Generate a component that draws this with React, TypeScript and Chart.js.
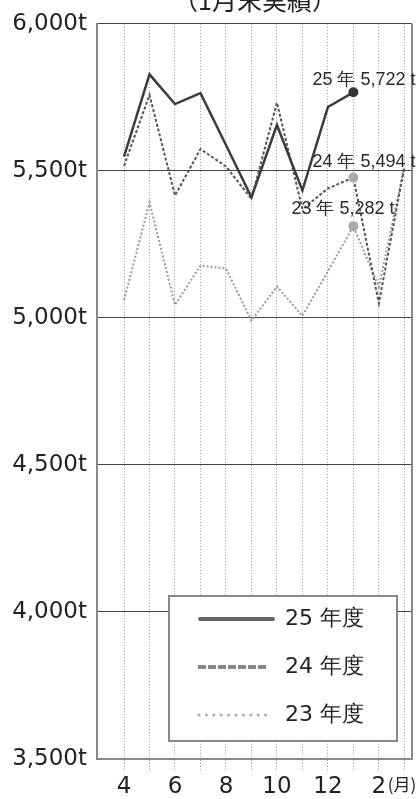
import React, { useEffect, useRef } from 'react';
import { Chart, registerables } from 'chart.js';

Chart.register(...registerables);

// ---- data ----
const months = ['4', '5', '6', '7', '8', '9', '10', '11', '12', '1', '2', '3'];
const xTickLabels = ['4', '', '6', '', '8', '', '10', '', '12', '', '2', ''];
const yTickValues = [3500, 4000, 4500, 5000, 5500, 6000];
const yTickLabels = ['3,500t', '4,000t', '4,500t', '5,000t', '5,500t', '6,000t'];
const seriesNames = ['25 年度', '24 年度', '23 年度'];
const fy25 = [5548, 5828, 5727, 5764, 5588, 5410, 5656, 5433, 5717, 5767];
const fy24 = [5517, 5758, 5416, 5574, 5515, 5405, 5732, 5370, 5440, 5477, 5050, 5513];
const fy23 = [5060, 5393, 5044, 5178, 5168, 4990, 5107, 5007, 5158, 5312, 5105, 5515];
const endLabels = ['25 年 5,722 t', '24 年 5,494 t', '23 年 5,282 t'];
const janIndex = 9;
const titleText = '（1月末実績）';
const unitText = '(月)';

const AXIS_FONT = '"DejaVu Sans", sans-serif';
const NOTE_FONT = '"Liberation Sans", Arial, sans-serif';
const CJK_FONT = '"Noto Sans CJK JP", sans-serif';

const toPoints = (arr: number[]) => arr.map((y, i) => ({ x: i, y }));
const markerRadius = (arr: number[]) => arr.map((_, i) => (i === janIndex ? 5 : 0));

const decorPlugin = {
  id: 'decor',
  afterDatasetsDraw(chart: any) {
    const ctx = chart.ctx as CanvasRenderingContext2D;
    const area = chart.chartArea;
    ctx.save();
    ctx.strokeStyle = '#888';
    ctx.lineWidth = 2;
    ctx.beginPath();
    ctx.moveTo(area.right, area.top);
    ctx.lineTo(area.right, area.bottom);
    ctx.stroke();
    ctx.restore();

    const offsets = [
      [-41, -12],
      [-41, -16],
      [-62, -17],
    ];
    ctx.save();
    ctx.font = `18px ${NOTE_FONT}`;
    ctx.fillStyle = '#2a2a2a';
    ctx.textAlign = 'left';
    ctx.textBaseline = 'middle';
    chart.data.datasets.forEach((_: any, i: number) => {
      const meta = chart.getDatasetMeta(i);
      const pt = meta.data[janIndex];
      if (!pt) return;
      ctx.fillText(endLabels[i], pt.x + offsets[i][0], pt.y + offsets[i][1]);
    });
    ctx.restore();
  },
  afterDraw(chart: any) {
    const ctx = chart.ctx as CanvasRenderingContext2D;
    const xs = chart.scales.x;
    ctx.save();
    ctx.font = `25px ${CJK_FONT}`;
    ctx.fillStyle = '#222';
    ctx.textAlign = 'center';
    ctx.textBaseline = 'alphabetic';
    ctx.fillText(titleText, 255, 10);
    ctx.restore();

    ctx.save();
    ctx.font = `17px ${CJK_FONT}`;
    ctx.fillStyle = '#222';
    ctx.textAlign = 'left';
    ctx.textBaseline = 'middle';
    ctx.fillText(unitText, xs.getPixelForValue(10) + 9, 785);
    ctx.restore();

    const bx = 169, by = 596, bw = 228, bh = 145;
    ctx.save();
    ctx.fillStyle = '#fff';
    ctx.fillRect(bx, by, bw, bh);
    ctx.strokeStyle = '#888';
    ctx.lineWidth = 2;
    ctx.strokeRect(bx, by, bw, bh);
    const rows = [619, 667, 715];
    ctx.strokeStyle = '#666';
    ctx.lineWidth = 4;
    ctx.lineCap = 'round';
    ctx.beginPath();
    ctx.moveTo(200, rows[0]);
    ctx.lineTo(273, rows[0]);
    ctx.stroke();
    ctx.strokeStyle = '#888';
    ctx.lineWidth = 4;
    ctx.lineCap = 'butt';
    ctx.setLineDash([8, 2]);
    ctx.beginPath();
    ctx.moveTo(198, rows[1]);
    ctx.lineTo(268, rows[1]);
    ctx.stroke();
    ctx.strokeStyle = '#aaa';
    ctx.lineWidth = 3;
    ctx.lineCap = 'round';
    ctx.setLineDash([0, 7.4]);
    ctx.beginPath();
    ctx.moveTo(199, rows[2]);
    ctx.lineTo(273, rows[2]);
    ctx.stroke();
    ctx.setLineDash([]);
    ctx.font = `22px ${AXIS_FONT}`;
    ctx.fillStyle = '#222';
    ctx.textAlign = 'left';
    ctx.textBaseline = 'middle';
    chart.data.datasets.forEach((ds: any, i: number) => {
      ctx.fillText(ds.label, 285, rows[i]);
    });
    ctx.restore();
  },
};

export default function App() {
  const canvasRef = useRef<HTMLCanvasElement | null>(null);

  useEffect(() => {
    document.body.style.margin = '0';
    const canvas = canvasRef.current;
    if (!canvas) return;
    const chart = new Chart(canvas, {
      type: 'line',
      data: {
        datasets: [
          {
            label: seriesNames[0],
            data: toPoints(fy25),
            borderColor: '#3c3c3c',
            borderWidth: 2.5,
            pointRadius: markerRadius(fy25),
            pointBackgroundColor: '#333',
            pointBorderWidth: 0,
            tension: 0,
            fill: false,
          },
          {
            label: seriesNames[1],
            data: toPoints(fy24),
            borderColor: '#555',
            borderWidth: 2,
            borderDash: [3, 2],
            pointRadius: markerRadius(fy24),
            pointBackgroundColor: '#aaa',
            pointBorderWidth: 0,
            tension: 0,
            fill: false,
          },
          {
            label: seriesNames[2],
            data: toPoints(fy23),
            borderColor: '#9a9a9a',
            borderWidth: 2,
            borderDash: [2, 2],
            pointRadius: markerRadius(fy23),
            pointBackgroundColor: '#aaa',
            pointBorderWidth: 0,
            tension: 0,
            fill: false,
          },
        ],
      },
      options: {
        animation: false,
        responsive: false,
        layout: { padding: { top: 18, right: 5, left: 0, bottom: 0 } },
        plugins: {
          legend: { display: false },
          tooltip: { enabled: false },
          title: { display: false },
        },
        scales: {
          x: {
            type: 'linear',
            min: -1.06,
            max: 11.3,
            afterBuildTicks: (s: any) => {
              s.ticks = months.map((_, i) => ({ value: i }));
            },
            afterFit: (s: any) => {
              s.height = 40;
            },
            ticks: {
              autoSkip: false,
              maxRotation: 0,
              padding: 1,
              color: '#222',
              font: { family: AXIS_FONT, size: 23 },
              callback: (v: any) => xTickLabels[v as number] ?? '',
            },
            grid: {
              color: '#999',
              lineWidth: 1,
              tickLength: 13,
              tickColor: '#999',
              tickBorderDash: [1, 2],
            },
            border: { display: true, color: '#888', width: 2, dash: [1, 2] },
          },
          y: {
            type: 'linear',
            min: 3500,
            max: 6000,
            afterBuildTicks: (s: any) => {
              s.ticks = yTickValues.map((v) => ({ value: v }));
            },
            afterFit: (s: any) => {
              s.width = 97;
            },
            ticks: {
              padding: 10,
              color: '#222',
              font: { family: AXIS_FONT, size: 23 },
              callback: (v: any) => yTickLabels[yTickValues.indexOf(v as number)],
            },
            grid: { color: '#444', lineWidth: 1, drawTicks: false },
            border: { display: true, color: '#888', width: 2 },
          },
        },
      },
      plugins: [decorPlugin],
    } as any);
    return () => chart.destroy();
  }, []);

  return (
    <div style={{ width: 417, height: 799 }}>
      <canvas ref={canvasRef} width={417} height={799} />
    </div>
  );
}
